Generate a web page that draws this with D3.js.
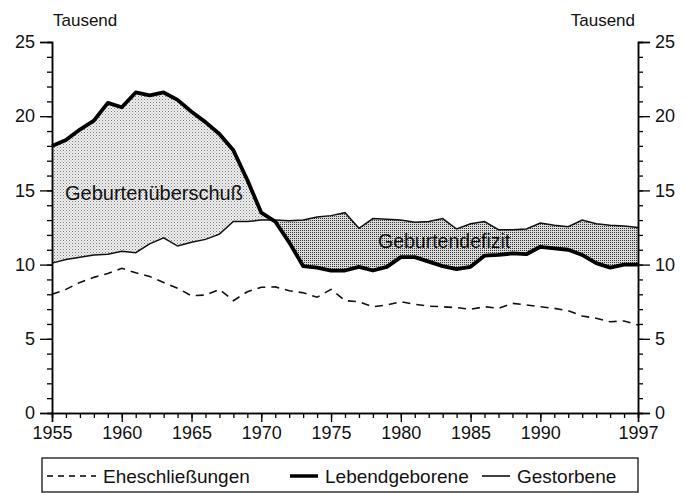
<!DOCTYPE html>
<html>
<head>
<meta charset="utf-8">
<script src="https://cdn.jsdelivr.net/npm/d3@7"></script>
<style>
  body { margin: 0; background: #fff; }
  text { font-family: "Liberation Sans", Arial, sans-serif; fill: #111; }
</style>
</head>
<body>
<div id="chart"></div>
<script>
const jahre = [1955, 1956, 1957, 1958, 1959, 1960, 1961, 1962, 1963, 1964,
  1965, 1966, 1967, 1968, 1969, 1970, 1971, 1972, 1973, 1974,
  1975, 1976, 1977, 1978, 1979, 1980, 1981, 1982, 1983, 1984,
  1985, 1986, 1987, 1988, 1989, 1990, 1991, 1992, 1993, 1994,
  1995, 1996, 1997];

const geborene = [18.0, 18.4, 19.1, 19.7, 20.9, 20.6, 21.6, 21.4, 21.6, 21.1,
  20.3, 19.6, 18.8, 17.7, 15.7, 13.5, 12.9, 11.5, 9.9, 9.8,
  9.6, 9.6, 9.85, 9.6, 9.85, 10.5, 10.5, 10.2, 9.9, 9.7,
  9.85, 10.6, 10.65, 10.75, 10.7, 11.2, 11.1, 11.0, 10.65, 10.1,
  9.8, 10.0, 10.0];

const gestorbene = [10.1, 10.35, 10.5, 10.65, 10.7, 10.9, 10.8, 11.4, 11.8, 11.25,
  11.5, 11.7, 12.05, 12.9, 12.9, 13.0, 13.0, 12.95, 13.0, 13.2,
  13.3, 13.5, 12.45, 13.1, 13.05, 13.0, 12.85, 12.9, 13.1, 12.4,
  12.75, 12.9, 12.35, 12.35, 12.4, 12.8, 12.65, 12.55, 13.0, 12.75,
  12.65, 12.6, 12.5];

const ehen = [8.0, 8.33, 8.8, 9.14, 9.4, 9.75, 9.45, 9.2, 8.8, 8.4,
  7.9, 7.95, 8.33, 7.57, 8.17, 8.47, 8.5, 8.24, 8.1, 7.8,
  8.33, 7.57, 7.5, 7.16, 7.28, 7.5, 7.33, 7.2, 7.16, 7.1,
  6.99, 7.16, 7.05, 7.39, 7.28, 7.16, 7.05, 6.9, 6.54, 6.38,
  6.15, 6.2, 5.93];

const x_labels = [1955, 1960, 1965, 1970, 1975, 1980, 1985, 1990, 1997];
const y_labels = [0, 5, 10, 15, 20, 25];

const breite = 686, hoehe = 493;
const rand = { links: 52, rechts: 48, oben: 42, unten: 80 };

const rows = jahre.map((j, i) => ({ j, geb: geborene[i], gest: gestorbene[i], ehe: ehen[i] }));

const svg = d3.select("#chart").append("svg")
  .attr("width", breite).attr("height", hoehe);

const x = d3.scaleLinear().domain([1955, 1997]).range([rand.links, breite - rand.rechts]);
const y = d3.scaleLinear().domain([0, 25]).range([hoehe - rand.unten, rand.oben]);

// Raster
const defs = svg.append("defs");
const p1 = defs.append("pattern").attr("id", "hell")
  .attr("patternUnits", "userSpaceOnUse").attr("width", 3).attr("height", 3);
p1.append("rect").attr("width", 3).attr("height", 3).attr("fill", "#f2f2f2");
p1.append("rect").attr("x", 0).attr("y", 0).attr("width", 1).attr("height", 1).attr("fill", "#777");
p1.append("rect").attr("x", 1.5).attr("y", 1.5).attr("width", 1).attr("height", 1).attr("fill", "#999");

const p2 = defs.append("pattern").attr("id", "dunkel")
  .attr("patternUnits", "userSpaceOnUse").attr("width", 2).attr("height", 2);
p2.append("rect").attr("width", 2).attr("height", 2).attr("fill", "#d8d8d8");
p2.append("rect").attr("x", 0).attr("y", 0).attr("width", 1).attr("height", 1).attr("fill", "#3a3a3a");

defs.append("clipPath").attr("id", "unterGeb")
  .append("path").datum(rows)
  .attr("d", d3.area().x(d => x(d.j)).y0(y(0)).y1(d => y(d.geb)));
defs.append("clipPath").attr("id", "unterGest")
  .append("path").datum(rows)
  .attr("d", d3.area().x(d => x(d.j)).y0(y(0)).y1(d => y(d.gest)));

svg.append("path").datum(rows)
  .attr("clip-path", "url(#unterGeb)")
  .attr("fill", "url(#hell)")
  .attr("d", d3.area().x(d => x(d.j)).y0(d => y(d.gest)).y1(y(25)));

svg.append("path").datum(rows)
  .attr("clip-path", "url(#unterGest)")
  .attr("fill", "url(#dunkel)")
  .attr("d", d3.area().x(d => x(d.j)).y0(d => y(d.geb)).y1(y(25)));

// Linien
const linie = key => d3.line().x(d => x(d.j)).y(d => y(d[key]));

svg.append("path").datum(rows).attr("d", linie("ehe"))
  .attr("fill", "none").attr("stroke", "#111").attr("stroke-width", 1.6)
  .attr("stroke-dasharray", "8,6");
svg.append("path").datum(rows).attr("d", linie("gest"))
  .attr("fill", "none").attr("stroke", "#111").attr("stroke-width", 1.5);
svg.append("path").datum(rows).attr("d", linie("geb"))
  .attr("fill", "none").attr("stroke", "#000").attr("stroke-width", 3.8)
  .attr("stroke-linejoin", "round");

// Achsen
const yMinor = d3.range(0, 26);
const links = svg.append("g").attr("transform", `translate(${rand.links},0)`);
links.call(d3.axisLeft(y).tickValues(yMinor).tickSize(5).tickFormat(""));
links.append("g").call(d3.axisLeft(y).tickValues(y_labels).tickSize(12).tickPadding(5));

const rechts = svg.append("g").attr("transform", `translate(${breite - rand.rechts},0)`);
rechts.call(d3.axisRight(y).tickValues(yMinor).tickSize(5).tickFormat(""));
rechts.append("g").call(d3.axisRight(y).tickValues(y_labels).tickSize(12).tickPadding(5));

const unten = svg.append("g").attr("transform", `translate(0,${y(0)})`);
unten.call(d3.axisBottom(x).tickValues(jahre).tickSize(5).tickFormat(""));
unten.append("g").call(d3.axisBottom(x).tickValues(x_labels).tickSize(9).tickPadding(4).tickFormat(d3.format("d")));

svg.selectAll(".domain").attr("stroke", "#000").attr("stroke-width", 1.5);
svg.selectAll(".tick line").attr("stroke", "#000").attr("stroke-width", 1.3);
svg.selectAll(".tick text").style("font-size", "18px").attr("fill", "#111");

svg.append("text").attr("x", rand.links + 1).attr("y", 26).style("font-size", "17px").text("Tausend");
svg.append("text").attr("x", breite - rand.rechts - 3).attr("y", 26).attr("text-anchor", "end")
  .style("font-size", "17px").text("Tausend");

svg.append("text").attr("x", 65).attr("y", 200).style("font-size", "20px").text("Geburtenüberschuß");
svg.append("text").attr("x", 378).attr("y", 248).style("font-size", "19.5px").text("Geburtendefizit");

// Legende
const leg = svg.append("g");
leg.append("rect").attr("x", rand.links - 10).attr("y", 458).attr("width", breite - rand.links - rand.rechts + 10)
  .attr("height", 34).attr("fill", "none").attr("stroke", "#000").attr("stroke-width", 1.2);
const ly = 476;
const eintraege = [
  { name: "Eheschließungen", x1: 47, x2: 96, w: 1.5, dash: "6,5" },
  { name: "Lebendgeborene", x1: 290, x2: 318, w: 3.5, dash: null },
  { name: "Gestorbene", x1: 482, x2: 510, w: 1.5, dash: null }
];
eintraege.forEach(e => {
  leg.append("line").attr("x1", e.x1).attr("x2", e.x2).attr("y1", ly).attr("y2", ly)
    .attr("stroke", "#000").attr("stroke-width", e.w).attr("stroke-dasharray", e.dash);
  leg.append("text").attr("x", e.x2 + 7).attr("y", ly + 7).style("font-size", "19px").text(e.name);
});
</script>
</body>
</html>
